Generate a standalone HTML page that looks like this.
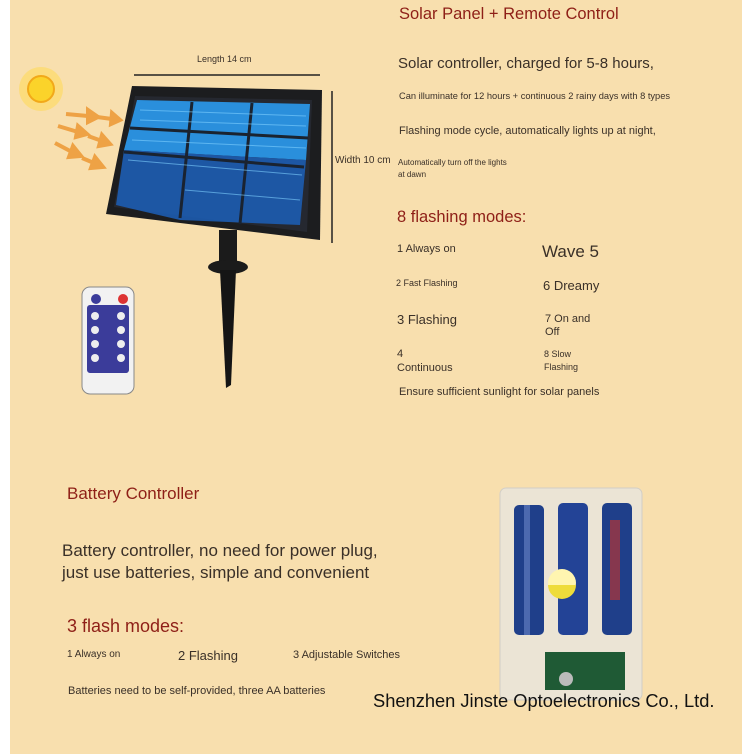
<!DOCTYPE html>
<html><head><meta charset="utf-8"><style>
body{margin:0;width:750px;height:754px;background:#fff;position:relative;overflow:hidden;font-family:"Liberation Sans","DejaVu Sans",sans-serif}
#bg{position:absolute;left:10px;top:0;width:732px;height:754px;background:#f8dfae}
.t{position:absolute;color:#3a3028;white-space:nowrap}
.h{position:absolute;color:#8e1f17;white-space:nowrap}
</style></head><body>
<div id="bg"></div>
<svg width="750" height="754" style="position:absolute;left:0;top:0">
<g transform="translate(41,89)">
<circle r="22" fill="#ffd94a" opacity=".5"/>
<circle r="13" fill="#fbd32a" stroke="#f2a919" stroke-width="2"/>
</g>
<g stroke="#eea245" stroke-width="4" fill="#eea245">
<line x1="66" y1="114" x2="88" y2="116"/><polygon points="88,110 98,117 88,122"/>
<line x1="97" y1="117" x2="112" y2="119"/><polygon points="112,113 120,120 111,124"/>
<line x1="58" y1="126" x2="78" y2="132"/><polygon points="78,126 87,134 76,137"/>
<line x1="88" y1="136" x2="102" y2="141"/><polygon points="102,135 110,144 99,146"/>
<line x1="55" y1="143" x2="72" y2="152"/><polygon points="73,146 81,156 69,157"/>
<line x1="82" y1="158" x2="94" y2="163"/><polygon points="95,157 103,167 91,168"/>
</g>
<line x1="134" y1="75" x2="320" y2="75" stroke="#222" stroke-width="1.5"/>
<line x1="332" y1="91" x2="332" y2="243" stroke="#222" stroke-width="1.5"/>
<rect x="219" y="230" width="18" height="40" fill="#1b1b1b"/>
<ellipse cx="228" cy="267" rx="20" ry="7" fill="#1b1b1b"/>
<polygon points="220,270 236,270 231,385 226,388" fill="#151515"/>
<polygon points="132,86 322,90 320,240 106,214" fill="#1c1d1f"/>
<polygon points="135,96 312,100 307,232 114,207" fill="#252830"/>
<polygon points="137,100 310,104 306,160 124,150" fill="#2a8fdc"/>
<polygon points="124,150 306,160 300,225 180,220 116,205" fill="#1c5fb8" opacity=".85"/>
<g stroke="#1a2330" stroke-width="3">
<line x1="192" y1="102" x2="180" y2="218"/><line x1="252" y1="103" x2="240" y2="224"/>
<line x1="130" y1="128" x2="308" y2="138"/><line x1="124" y1="152" x2="304" y2="167"/>
</g>
<g stroke="#7fd0ff" stroke-width="1" opacity=".6">
<line x1="140" y1="110" x2="306" y2="116"/><line x1="140" y1="120" x2="306" y2="126"/><line x1="132" y1="140" x2="306" y2="148"/><line x1="128" y1="160" x2="302" y2="175"/><line x1="185" y1="190" x2="300" y2="200"/>
</g>
<rect x="82" y="287" width="52" height="107" rx="8" fill="#f2f2f2" stroke="#888"/>
<rect x="87" y="305" width="42" height="68" rx="3" fill="#3b3c9a"/>
<circle cx="96" cy="299" r="5" fill="#3b3c9a"/><circle cx="123" cy="299" r="5" fill="#d33"/>
<g fill="#eee"><circle cx="95" cy="316" r="4"/><circle cx="121" cy="316" r="4"/><circle cx="95" cy="330" r="4"/><circle cx="121" cy="330" r="4"/><circle cx="95" cy="344" r="4"/><circle cx="121" cy="344" r="4"/><circle cx="95" cy="358" r="4"/><circle cx="121" cy="358" r="4"/></g>
<rect x="500" y="488" width="142" height="212" rx="6" fill="#e9e6dc" opacity=".85" stroke="#ccc"/>
<rect x="514" y="505" width="30" height="130" rx="5" fill="#1f3f8a"/>
<rect x="558" y="503" width="30" height="132" rx="5" fill="#234396"/>
<rect x="602" y="503" width="30" height="132" rx="5" fill="#1f3f8a"/>
<rect x="524" y="505" width="6" height="130" fill="#6a86c8" opacity=".6"/>
<rect x="610" y="520" width="10" height="80" fill="#b23434" opacity=".7"/>
<circle cx="562" cy="583" r="14" fill="#fff5b0"/><path d="M548,585 A14,14 0 0 0 576,585 Z" fill="#eedc3a"/>
<rect x="545" y="652" width="80" height="38" fill="#1f5a35"/>
<circle cx="566" cy="679" r="7" fill="#bbb"/>
</svg>
<div class="t" style="left:197px;top:54px;font-size:9px">Length 14 cm</div>
<div class="t" style="left:335px;top:155px;font-size:10px">Width 10 cm</div>
<div class="h" style="left:399px;top:5px;font-size:16.5px">Solar Panel + Remote Control</div>
<div class="t" style="left:398px;top:55px;font-size:15px">Solar controller, charged for 5-8 hours,</div>
<div class="t" style="left:399px;top:91px;font-size:9.3px">Can illuminate for 12 hours + continuous 2 rainy days with 8 types</div>
<div class="t" style="left:399px;top:125px;font-size:11px">Flashing mode cycle, automatically lights up at night,</div>
<div class="t" style="left:398px;top:157px;font-size:8px;line-height:12px">Automatically turn off the lights<br>at dawn</div>
<div class="h" style="left:397px;top:208px;font-size:16.5px">8 flashing modes:</div>
<div class="t" style="left:397px;top:243px;font-size:11px">1 Always on</div>
<div class="t" style="left:542px;top:242px;font-size:17px">Wave 5</div>
<div class="t" style="left:396px;top:278px;font-size:9px">2 Fast Flashing</div>
<div class="t" style="left:543px;top:278px;font-size:13px">6 Dreamy</div>
<div class="t" style="left:397px;top:312px;font-size:13px">3 Flashing</div>
<div class="t" style="left:545px;top:313px;font-size:11px;line-height:13px">7 On and<br>Off</div>
<div class="t" style="left:397px;top:347px;font-size:11px;line-height:14px">4<br>Continuous</div>
<div class="t" style="left:544px;top:348px;font-size:9px;line-height:13px">8 Slow<br>Flashing</div>
<div class="t" style="left:399px;top:386px;font-size:11px">Ensure sufficient sunlight for solar panels</div>
<div class="h" style="left:67px;top:484px;font-size:17px">Battery Controller</div>
<div class="t" style="left:62px;top:540px;font-size:17px;line-height:22px">Battery controller, no need for power plug,<br>just use batteries, simple and convenient</div>
<div class="h" style="left:67px;top:616px;font-size:18px">3 flash modes:</div>
<div class="t" style="left:67px;top:649px;font-size:10px">1 Always on</div>
<div class="t" style="left:178px;top:648px;font-size:13px">2 Flashing</div>
<div class="t" style="left:293px;top:649px;font-size:11px">3 Adjustable Switches</div>
<div class="t" style="left:68px;top:685px;font-size:11px">Batteries need to be self-provided, three AA batteries</div>
<div class="t" style="left:373px;top:690px;font-size:18.3px;color:#111">Shenzhen Jinste Optoelectronics Co., Ltd.</div>
</body></html>
